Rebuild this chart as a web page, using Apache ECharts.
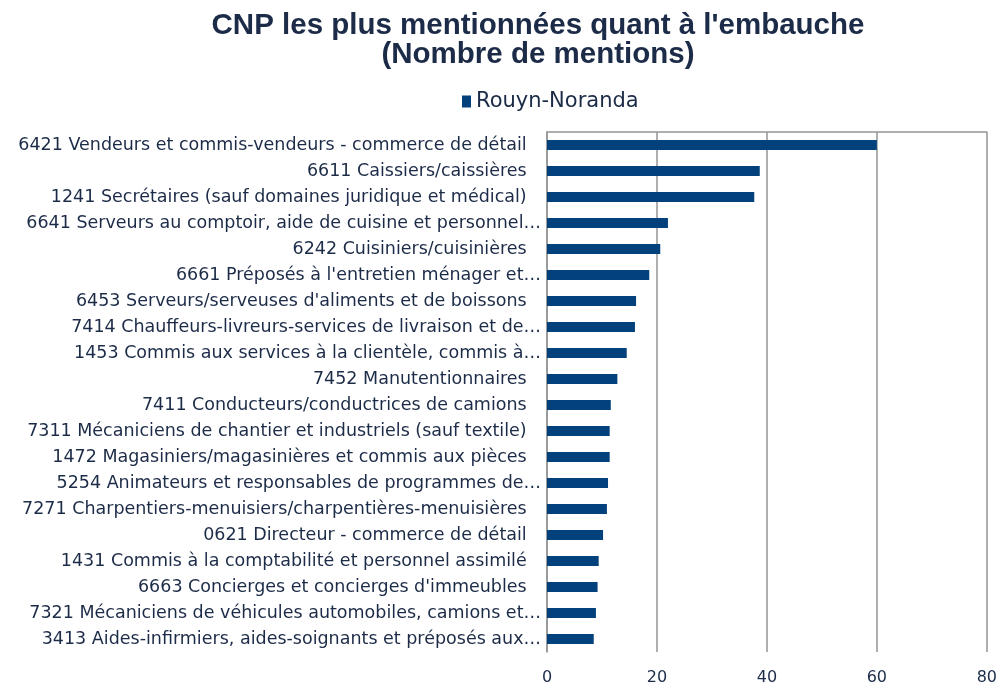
<!DOCTYPE html>
<html>
<head>
<meta charset="utf-8">
<script src="https://cdn.jsdelivr.net/npm/echarts@6/dist/echarts.min.js"></script>
<style>
  html, body { margin: 0; padding: 0; background: #fff; }
  #chart { width: 1000px; height: 687px; }
</style>
</head>
<body>
<div id="chart"></div>
<script>
// categories, top to bottom
var categories = [
  '6421 Vendeurs et commis-vendeurs - commerce de détail',
  '6611 Caissiers/caissières',
  '1241 Secrétaires (sauf domaines juridique et médical)',
  '6641 Serveurs au comptoir, aide de cuisine et personnel…',
  '6242 Cuisiniers/cuisinières',
  '6661 Préposés à l\'entretien ménager et…',
  '6453 Serveurs/serveuses d\'aliments et de boissons',
  '7414 Chauffeurs-livreurs-services de livraison et de…',
  '1453 Commis aux services à la clientèle, commis à…',
  '7452 Manutentionnaires',
  '7411 Conducteurs/conductrices de camions',
  '7311 Mécaniciens de chantier et industriels (sauf textile)',
  '1472 Magasiniers/magasinières et commis aux pièces',
  '5254 Animateurs et responsables de programmes de…',
  '7271 Charpentiers-menuisiers/charpentières-menuisières',
  '0621 Directeur - commerce de détail',
  '1431 Commis à la comptabilité et personnel assimilé',
  '6663 Concierges et concierges d\'immeubles',
  '7321 Mécaniciens de véhicules automobiles, camions et…',
  '3413 Aides-infirmiers, aides-soignants et préposés aux…'
];

var rouynNoranda = [60, 38.7, 37.7, 22.0, 20.6, 18.6, 16.2, 16.0, 14.5, 12.8,
  11.6, 11.4, 11.4, 11.1, 10.9, 10.2, 9.4, 9.2, 8.9, 8.5];

var titleLines = ['CNP les plus mentionnées quant à l\'embauche', '(Nombre de mentions)'];

var navy = '#1c2b47';
var barColor = '#03417c';
var gridGray = '#959595';

var chart = echarts.init(document.getElementById('chart'));
chart.setOption({
  animation: false,
  title: {
    text: titleLines.join('\n'),
    left: 533,
    textAlign: 'center',
    top: 6,
    textStyle: {
      fontFamily: 'Liberation Sans',
      fontWeight: 'bold',
      fontSize: 29.5,
      lineHeight: 29,
      color: navy
    }
  },
  legend: {
    data: ['Rouyn-Noranda'],
    left: 457,
    top: 86,
    icon: 'rect',
    itemWidth: 9,
    itemHeight: 12,
    itemGap: 6,
    textStyle: { fontFamily: 'DejaVu Sans', fontSize: 21, color: navy }
  },
  grid: { left: 547, right: 13, top: 132, bottom: 35 },
  xAxis: [
    {
      type: 'value',
      min: 0,
      max: 80,
      interval: 20,
      position: 'bottom',
      axisLine: { show: false },
      axisTick: { show: false },
      axisLabel: { margin: 18, fontFamily: 'DejaVu Sans', fontSize: 16, color: navy },
      splitLine: { lineStyle: { color: gridGray, width: 1.5 } }
    },
    {
      type: 'value',
      min: 0,
      max: 80,
      position: 'top',
      axisLine: { show: true, lineStyle: { color: gridGray, width: 1.5 } },
      axisTick: { show: false },
      axisLabel: { show: false },
      splitLine: { show: false }
    }
  ],
  yAxis: {
    type: 'category',
    inverse: true,
    data: categories,
    axisLine: { lineStyle: { color: gridGray, width: 1.5 } },
    axisTick: { length: 5, lineStyle: { color: gridGray } },
    axisLabel: {
      margin: 6,
      fontFamily: 'DejaVu Sans',
      fontSize: 17.5,
      color: navy,
      formatter: function (v) {
        return v.slice(-1) === '…' ? v : v + '\u2002 ';
      }
    }
  },
  series: [
    {
      name: 'Rouyn-Noranda',
      type: 'bar',
      data: rouynNoranda,
      barWidth: 10,
      itemStyle: { color: barColor }
    }
  ]
});
</script>
</body>
</html>
